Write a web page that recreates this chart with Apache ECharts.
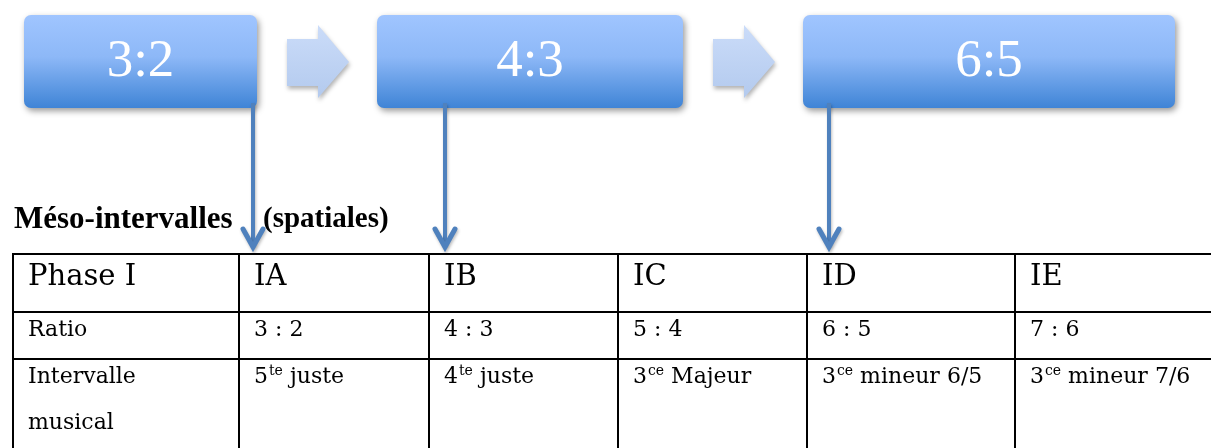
<!DOCTYPE html>
<html><head><meta charset="utf-8">
<script src="https://cdn.jsdelivr.net/npm/echarts@6/dist/echarts.min.js"></script>
<style>html,body{margin:0;padding:0;background:#fff}#c{width:1211px;height:448px}</style>
</head><body><div id="c"></div>
<script>
// ---- data ----
const boxLabels = ['3:2', '4:3', '6:5'];
const titleMain = 'Méso-intervalles';
const titleSub = '(spatiales)';
const headerRow = ['Phase I', 'IA', 'IB', 'IC', 'ID', 'IE'];
const ratioRow = ['Ratio', '3 : 2', '4 : 3', '5 : 4', '6 : 5', '7 : 6'];
const rowLabelInterval = ['Intervalle', 'musical'];
const intervalNum = ['5', '4', '3', '3', '3'];
const intervalSup = ['te', 'te', 'ce', 'ce', 'ce'];
const intervalName = ['juste', 'juste', 'Majeur', 'mineur 6/5', 'mineur 7/6'];
const linkedColumns = [1, 2, 4]; // box i points to table column

// ---- layout ----
const boxes = [[24, 257], [377, 683], [803, 1175]];
const boxTop = 15, boxBottom = 108;
const arrowsX = [287, 713];
const colX = [13, 239, 429, 618, 807, 1015, 1240];
const rowY = [254, 312, 359, 470];
const connectorX = [253, 445, 829];
const serif = '"DejaVu Serif", serif';
const g = [];

const boxGrad = () => new echarts.graphic.LinearGradient(0, 0, 0, 1, [
  {offset: 0, color: '#a0c5ff'}, {offset: 0.45, color: '#8db8f7'}, {offset: 1, color: '#3f84d6'}]);
const arrowGrad = () => new echarts.graphic.LinearGradient(0, 0, 0, 1, [
  {offset: 0, color: '#cbdcf9'}, {offset: 1, color: '#b3caee'}]);

boxLabels.forEach((lab, i) => {
  const [x0, x1] = boxes[i];
  g.push({type: 'rect', shape: {x: x0, y: boxTop, width: x1 - x0, height: boxBottom - boxTop, r: 7},
    style: {fill: boxGrad(), shadowBlur: 6, shadowOffsetY: 3, shadowOffsetX: 2, shadowColor: 'rgba(0,0,0,0.4)'}, z: 2});
  g.push({type: 'text', x: (x0 + x1) / 2, y: (boxTop + boxBottom) / 2 + 1, z: 3,
    style: {text: lab, font: '53px "Liberation Serif", serif', fill: '#ffffff', align: 'center', verticalAlign: 'middle'}});
});

arrowsX.forEach(ax => {
  g.push({type: 'polygon', z: 2,
    shape: {points: [[ax, 39], [ax + 31, 39], [ax + 31, 25], [ax + 62, 62], [ax + 31, 98], [ax + 31, 86], [ax, 86]]},
    style: {fill: arrowGrad(), shadowBlur: 4, shadowOffsetY: 3, shadowOffsetX: 1, shadowColor: 'rgba(0,0,0,0.3)'}});
});

// title
g.push({type: 'text', x: 14, y: 220, z: 3, style: {text: titleMain, font: 'bold 31px "Liberation Serif", serif', fill: '#000', verticalAlign: 'middle'}});
g.push({type: 'text', x: 263, y: 220, z: 3, style: {text: titleSub, font: 'bold 29px "Liberation Serif", serif', fill: '#000', verticalAlign: 'middle'}});

// connectors
linkedColumns.forEach((col, i) => {
  const x = connectorX[i];
  const sh = {shadowBlur: 3, shadowOffsetY: 2, shadowOffsetX: 1, shadowColor: 'rgba(0,0,0,0.25)'};
  g.push({type: 'line', z: 4, shape: {x1: x, y1: 103, x2: x, y2: 246},
    style: Object.assign({stroke: '#4f81bd', lineWidth: 4}, sh)});
  g.push({type: 'polyline', z: 4, shape: {points: [[x - 10, 229], [x, 247], [x + 10, 229]]},
    style: Object.assign({stroke: '#4f81bd', lineWidth: 5, fill: null, lineJoin: 'miter', lineCap: 'round'}, sh)});
});

// table lines
rowY.slice(0, 3).forEach(y => g.push({type: 'line', z: 1, shape: {x1: 12, y1: y, x2: 1215, y2: y}, style: {stroke: '#000', lineWidth: 2}}));
colX.slice(0, 6).forEach(x => g.push({type: 'line', z: 1, shape: {x1: x, y1: 253, x2: x, y2: 460}, style: {stroke: '#000', lineWidth: 2}}));

// table text
headerRow.forEach((t, i) => {
  g.push({type: 'text', x: colX[i] + 15, y: 277, z: 3, style: {text: t, font: '29px ' + serif, fill: '#000', verticalAlign: 'middle'}});
});
ratioRow.forEach((t, i) => {
  g.push({type: 'text', x: colX[i] + 15, y: 330, z: 3, style: {text: t, font: '22px ' + serif, fill: '#000', verticalAlign: 'middle'}});
});
g.push({type: 'text', x: colX[0] + 15, y: 377, z: 3, style: {text: rowLabelInterval[0], font: '22px ' + serif, fill: '#000', verticalAlign: 'middle'}});
g.push({type: 'text', x: colX[0] + 15, y: 423, z: 3, style: {text: rowLabelInterval[1], font: '22px ' + serif, fill: '#000', verticalAlign: 'middle'}});
intervalName.forEach((nm, i) => {
  g.push({type: 'text', x: colX[i + 1] + 15, y: 377, z: 3, style: {
    text: '{n|' + intervalNum[i] + '}{s|' + intervalSup[i] + '}{n| ' + nm + '}',
    verticalAlign: 'middle', fill: '#000',
    rich: {
      n: {fontSize: 22, fontFamily: 'DejaVu Serif', lineHeight: 25, fill: '#000'},
      s: {fontSize: 14, fontFamily: 'DejaVu Serif', verticalAlign: 'top', lineHeight: 25, padding: [0, 0, 0, 1], fill: '#000'}
    }}});
});

const chart = echarts.init(document.getElementById('c'), null, {renderer: 'canvas'});
chart.setOption({animation: false, graphic: {elements: g}});
</script></body></html>
